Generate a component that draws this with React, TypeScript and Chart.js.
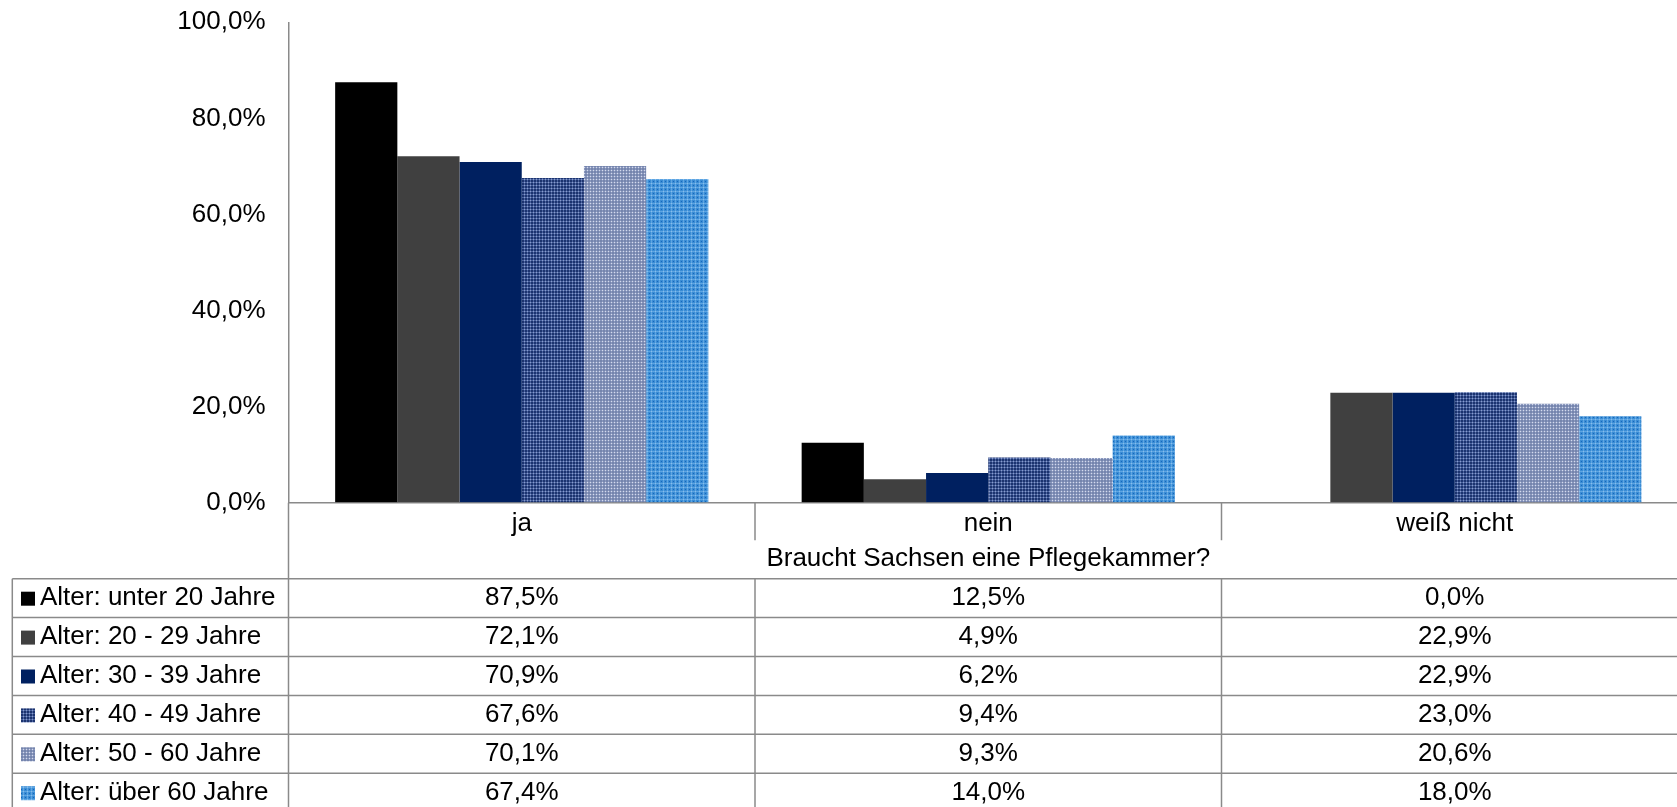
import React, { useEffect, useRef } from 'react';
import { Chart, registerables } from 'chart.js';

Chart.register(...registerables);

const categories = ['ja', 'nein', 'weiß nicht'];
const axisTitle = 'Braucht Sachsen eine Pflegekammer?';
const seriesNames = [
  'Alter: unter 20 Jahre',
  'Alter: 20 - 29 Jahre',
  'Alter: 30 - 39 Jahre',
  'Alter: 40 - 49 Jahre',
  'Alter: 50 - 60 Jahre',
  'Alter: über 60 Jahre',
];
const under20 = [87.5, 12.5, 0.0];
const age20to29 = [72.1, 4.9, 22.9];
const age30to39 = [70.9, 6.2, 22.9];
const age40to49 = [67.6, 9.4, 23.0];
const age50to60 = [70.1, 9.3, 20.6];
const over60 = [67.4, 14.0, 18.0];
const yMin = 0;
const yMax = 100;
const yStep = 20;

const FONT_FAMILY = "'Liberation Sans', Arial, sans-serif";
const FONT_SIZE = 26;
const LINE = '#8a8a8a';

const fmt = (v: number) => v.toFixed(1).replace('.', ',') + '%';

function tile(
  ctx: CanvasRenderingContext2D,
  size: number,
  base: string,
  px: Array<[number, number, string]>
) {
  const c = document.createElement('canvas');
  c.width = size;
  c.height = size;
  const g = c.getContext('2d')!;
  g.fillStyle = base;
  g.fillRect(0, 0, size, size);
  px.forEach(([x, y, col]) => {
    g.fillStyle = col;
    g.fillRect(x, y, 1, 1);
  });
  return ctx.createPattern(c, 'repeat')!;
}

export default function App() {
  const ref = useRef<HTMLCanvasElement>(null);

  useEffect(() => {
    const canvas = ref.current!;
    const ctx = canvas.getContext('2d')!;

    const p40 = tile(ctx, 3, '#1c336e', [
      [2, 0, '#4a63a0'],
      [2, 1, '#4a63a0'],
      [0, 2, '#4a63a0'],
      [1, 2, '#4a63a0'],
      [2, 2, '#8a9ccb'],
    ]);
    const p50 = tile(ctx, 3, '#7585ad', [
      [2, 0, '#8c99bf'],
      [2, 1, '#8c99bf'],
      [0, 2, '#8c99bf'],
      [1, 2, '#8c99bf'],
      [2, 2, '#d4dbec'],
    ]);
    const p60 = tile(ctx, 4, '#3a8dd5', [
      [3, 0, '#5ea5e2'],
      [3, 1, '#5ea5e2'],
      [3, 2, '#5ea5e2'],
      [0, 3, '#5ea5e2'],
      [1, 3, '#5ea5e2'],
      [2, 3, '#5ea5e2'],
      [3, 3, '#86bdec'],
      [1, 1, '#1766bb'],
    ]);

    const seriesData = [under20, age20to29, age30to39, age40to49, age50to60, over60];
    const fills: Array<string | CanvasPattern> = ['#000000', '#404040', '#002060', p40, p50, p60];

    const font = { family: FONT_FAMILY, size: FONT_SIZE };

    const tablePlugin = {
      id: 'dataTable',
      afterDraw(chart: any) {
        const { ctx: c, chartArea } = chart;
        const x = chart.scales.x;
        const n = categories.length;
        const catW = (x.right - x.left) / n;
        const rowTop = x.bottom;
        const rowH = 38.9;
        const leftEdge = 12.3;
        const W = chart.width;
        const H = chart.height;
        c.save();
        c.strokeStyle = LINE;
        c.lineWidth = 1.5;
        c.beginPath();
        // y axis continuation down through axis band and table
        c.moveTo(chartArea.left, chartArea.bottom);
        c.lineTo(chartArea.left, H);
        // category separators in the axis band and table
        for (let i = 0; i < n; i++) {
          const bx = x.getPixelForValue(i) + catW / 2;
          c.moveTo(bx, chartArea.bottom);
          c.lineTo(bx, chartArea.bottom + 37.5);
          c.moveTo(bx, rowTop);
          c.lineTo(bx, H);
        }
        // table left edge
        c.moveTo(leftEdge, rowTop);
        c.lineTo(leftEdge, H);
        // horizontal rows
        for (let r = 0; r <= seriesNames.length; r++) {
          const y = rowTop + r * rowH;
          c.moveTo(leftEdge, y);
          c.lineTo(W, y);
        }
        c.stroke();

        c.font = `${FONT_SIZE}px ${FONT_FAMILY}`;
        c.textBaseline = 'middle';
        seriesNames.forEach((name, r) => {
          const top = rowTop + r * rowH;
          const cy = top + rowH / 2;
          c.fillStyle = fills[r] as any;
          c.fillRect(21, top + 13, 14, 14);
          c.fillStyle = '#000';
          c.textAlign = 'left';
          c.fillText(name, 40, cy);
          c.textAlign = 'center';
          seriesData[r].forEach((v, i) => {
            c.fillText(fmt(v), x.getPixelForValue(i), cy);
          });
        });
        c.restore();
      },
    };

    const chart = new Chart(canvas, {
      type: 'bar',
      data: {
        labels: categories,
        datasets: seriesNames.map((name, i) => ({
          label: name,
          data: seriesData[i],
          backgroundColor: fills[i] as any,
          borderWidth: 0,
          categoryPercentage: 0.8,
          barPercentage: 1.0,
        })),
      },
      options: {
        responsive: false,
        animation: false,
        layout: { padding: { left: 0, top: 22.3, right: 12, bottom: 241.3 } },
        plugins: {
          legend: { display: false },
          tooltip: { enabled: false },
        },
        scales: {
          x: {
            grid: { display: true, drawOnChartArea: false, drawTicks: false },
            border: { display: true, color: LINE, width: 1.5 },
            ticks: { padding: 6, color: '#000', font, maxRotation: 0, autoSkip: false },
            title: {
              display: true,
              text: axisTitle,
              color: '#000',
              font,
              padding: { top: 0, bottom: 4 },
            },
            afterFit: (s: any) => {
              s.height = 76;
              s.paddingLeft = 0;
              s.paddingRight = 0;
            },
          },
          y: {
            min: yMin,
            max: yMax,
            grid: { display: true, drawOnChartArea: false, drawTicks: false },
            border: { display: true, color: LINE, width: 1.5 },
            ticks: {
              stepSize: yStep,
              padding: 23,
              color: '#000',
              font,
              callback: (v: any) => fmt(Number(v)),
            },
            afterFit: (s: any) => {
              s.width = 288.5;
              s.paddingTop = 0;
              s.paddingBottom = 0;
            },
          },
        },
      },
      plugins: [tablePlugin],
    });
    return () => chart.destroy();
  }, []);

  return (
    <div
      style={{
        position: 'fixed',
        left: 0,
        top: 0,
        width: 1677,
        height: 807,
        overflow: 'hidden',
        background: '#fff',
      }}
    >
      <canvas ref={ref} width={1700} height={820} style={{ display: 'block' }} />
    </div>
  );
}
